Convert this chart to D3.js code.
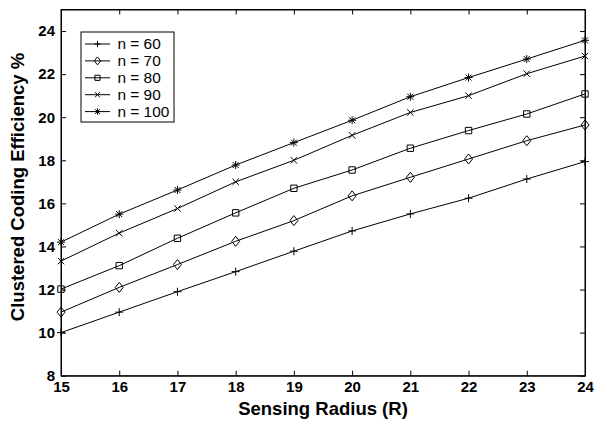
<!DOCTYPE html>
<html>
<head>
<meta charset="utf-8">
<script src="https://cdn.jsdelivr.net/npm/d3@7"></script>
<style>
  html, body { margin: 0; padding: 0; background: #fff; }
  svg { display: block; }
  text { font-family: "Liberation Sans", Arial, Helvetica, sans-serif; fill: #000; }
</style>
</head>
<body>
<svg id="chart" width="594" height="424"></svg>
<script>
// Sensing radius values (x axis)
const radius = [15, 16, 17, 18, 19, 20, 21, 22, 23, 24];

// Clustered coding efficiency (%) for each node count
const n60  = [10.0, 10.95, 11.9, 12.83, 13.78, 14.72, 15.51, 16.24, 17.13, 17.94];
const n70  = [10.95, 12.1, 13.16, 14.24, 15.2, 16.35, 17.21, 18.06, 18.91, 19.64];
const n80  = [12.02, 13.11, 14.38, 15.56, 16.7, 17.55, 18.56, 19.38, 20.15, 21.08];
const n90  = [13.32, 14.62, 15.76, 17.0, 18.0, 19.16, 20.22, 21.0, 22.02, 22.84];
const n100 = [14.2, 15.5, 16.62, 17.78, 18.82, 19.86, 20.95, 21.84, 22.7, 23.57];

const seriesNames = ["n = 60", "n = 70", "n = 80", "n = 90", "n = 100"];
const seriesValues = [n60, n70, n80, n90, n100];
const seriesMarkers = ["plus", "diamond", "square", "cross", "star"];

const xTicks = [15, 16, 17, 18, 19, 20, 21, 22, 23, 24];
const yTicks = [8, 10, 12, 14, 16, 18, 20, 22, 24];

const svg = d3.select("#chart");
const plot = { left: 61, right: 585, top: 9.5, bottom: 375.7 };

const x = d3.scaleLinear().domain([15, 24]).range([plot.left, plot.right]);
const y = d3.scaleLinear().domain([8, 25]).range([plot.bottom, plot.top]);

// Marker path generators (stroked, unfilled)
function markerPath(type, k = 1) {
  switch (type) {
    case "plus": { const s = 4 * k; return `M${-s},0H${s}M0,${-s}V${s}`; }
    case "cross": { const s = 3.2 * k; return `M${-s},${-s}L${s},${s}M${-s},${s}L${s},${-s}`; }
    case "star": { const s = 4 * k, d = 3 * k; return `M${-s},0H${s}M0,${-s}V${s}M${-d},${-d}L${d},${d}M${-d},${d}L${d},${-d}`; }
    case "diamond": { const w = 4 * k, h = 5 * k; return `M0,${-h}L${w},0L0,${h}L${-w},0Z`; }
    case "square": { const s = 3.2 * k; return `M${-s},${-s}H${s}V${s}H${-s}Z`; }
  }
}

// Frame
svg.append("rect")
  .attr("x", plot.left).attr("y", plot.top)
  .attr("width", plot.right - plot.left).attr("height", plot.bottom - plot.top)
  .attr("fill", "none").attr("stroke", "#000").attr("stroke-width", 1);

// Axes with inward ticks on all four sides
const tickLen = 5;
const gx = svg.append("g").attr("transform", `translate(0,${plot.bottom})`)
  .call(d3.axisBottom(x).tickValues(xTicks).tickSizeInner(-tickLen).tickSizeOuter(0).tickPadding(6).tickFormat(d3.format("d")));
const gxTop = svg.append("g").attr("transform", `translate(0,${plot.top})`)
  .call(d3.axisTop(x).tickValues(xTicks).tickSizeInner(-tickLen).tickSizeOuter(0).tickFormat(""));
const gy = svg.append("g").attr("transform", `translate(${plot.left},0)`)
  .call(d3.axisLeft(y).tickValues(yTicks).tickSizeInner(-tickLen).tickSizeOuter(0).tickPadding(6).tickFormat(d3.format("d")));
const gyRight = svg.append("g").attr("transform", `translate(${plot.right},0)`)
  .call(d3.axisRight(y).tickValues(yTicks).tickSizeInner(-tickLen).tickSizeOuter(0).tickFormat(""));

[gx, gxTop, gy, gyRight].forEach(g => {
  g.select(".domain").attr("stroke", "#000");
  g.selectAll(".tick line").attr("stroke", "#000");
  g.selectAll(".tick text")
    .style("font-family", '"Liberation Sans", Arial, sans-serif')
    .style("font-size", "15px").style("font-weight", "bold").attr("fill", "#000");
});
gx.selectAll(".tick text").attr("dy", "0.72em");

// Series lines and markers
const line = d3.line().x((d, i) => x(radius[i])).y(d => y(d));
seriesValues.forEach((vals, k) => {
  const g = svg.append("g");
  g.append("path").datum(vals)
    .attr("d", line).attr("fill", "none").attr("stroke", "#000").attr("stroke-width", 1);
  g.selectAll("path.m").data(vals).join("path")
    .attr("class", "m")
    .attr("transform", (d, i) => `translate(${x(radius[i])},${y(d)})`)
    .attr("d", markerPath(seriesMarkers[k]))
    .attr("fill", "none").attr("stroke", "#000").attr("stroke-width", 1);
});

// Axis titles
svg.append("text")
  .attr("x", (plot.left + plot.right) / 2).attr("y", 415)
  .attr("text-anchor", "middle")
  .style("font-size", "18.5px").style("font-weight", "bold")
  .text("Sensing Radius (R)");
svg.append("text")
  .attr("transform", `translate(24,187) rotate(-90)`)
  .attr("text-anchor", "middle")
  .style("font-size", "18.5px").style("font-weight", "bold")
  .text("Clustered Coding Efficiency %");

// Legend
const legend = svg.append("g");
legend.append("rect")
  .attr("x", 81).attr("y", 32).attr("width", 93).attr("height", 90)
  .attr("fill", "#fff").attr("stroke", "#000").attr("stroke-width", 1);
seriesNames.forEach((name, k) => {
  const ly = 44 + k * 16.9;
  legend.append("line").attr("x1", 85).attr("x2", 110).attr("y1", ly).attr("y2", ly)
    .attr("stroke", "#000").attr("stroke-width", 1);
  legend.append("path").attr("transform", `translate(97.5,${ly})`)
    .attr("d", markerPath(seriesMarkers[k], 0.8))
    .attr("fill", "none").attr("stroke", "#000").attr("stroke-width", 1);
  const t = legend.append("text").attr("x", 117.5).attr("y", ly).attr("dy", "0.36em")
    .style("font-size", "14px").text(name);
  // widen the legend glyphs slightly
  const w = t.node().getComputedTextLength();
  t.attr("textLength", w * 1.1).attr("lengthAdjust", "spacingAndGlyphs");
});
</script>
</body>
</html>
